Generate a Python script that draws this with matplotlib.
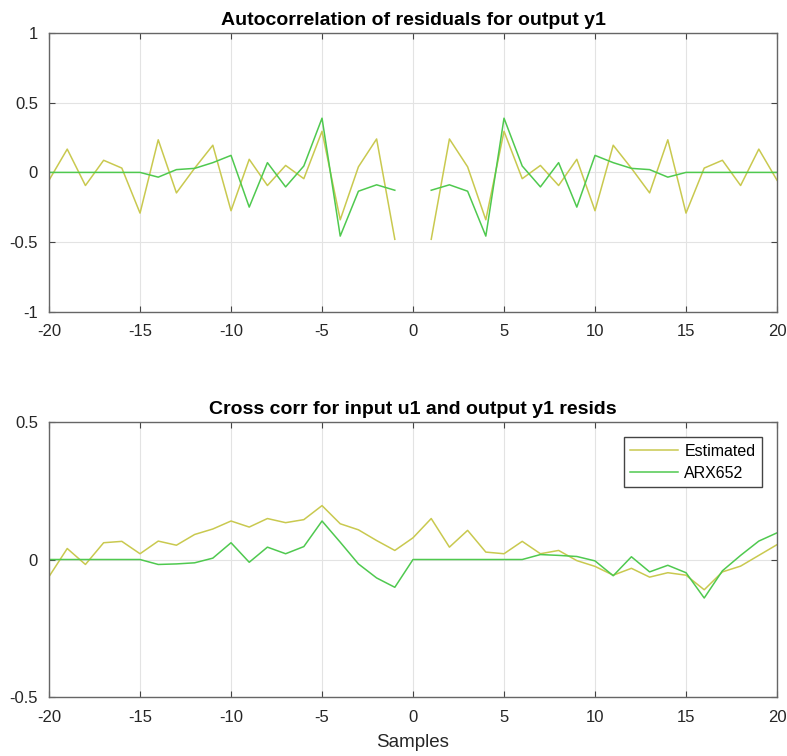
import numpy as np
import matplotlib
matplotlib.use('Agg')
import matplotlib.pyplot as plt

plt.rcParams['font.family'] = ['Liberation Sans', 'DejaVu Sans']
plt.rcParams['axes.unicode_minus'] = False

# lags 1..20, autocorrelation is symmetric so negative lags mirror these
pos_lags = np.arange(1, 21)
auto_est = [-0.48, 0.24, 0.04, -0.34, 0.295, -0.045, 0.05, -0.094, 0.094, -0.275,
            0.195, 0.03, -0.147, 0.234, -0.292, 0.031, 0.087, -0.094, 0.167, -0.056]
auto_arx = [-0.128, -0.089, -0.135, -0.457, 0.389, 0.046, -0.104, 0.07, -0.249, 0.122,
            0.07, 0.029, 0.02, -0.034, 0.0, 0.0, 0.0, 0.0, 0.0, 0.0]

# cross correlation, lags -20..20
cross_lags = np.arange(-20, 21)
cross_est = [-0.062, 0.04, -0.018, 0.061, 0.066, 0.021, 0.067, 0.052, 0.091, 0.111,
             0.14, 0.118, 0.149, 0.134, 0.145, 0.196, 0.13, 0.108, 0.069, 0.033,
             0.079, 0.149, 0.045, 0.106, 0.027, 0.021, 0.066, 0.021, 0.033, -0.004,
             -0.025, -0.057, -0.032, -0.064, -0.048, -0.057, -0.11, -0.045, -0.024, 0.015,
             0.054]
cross_arx = [0.0, 0.0, 0.0, 0.0, 0.0, 0.0, -0.018, -0.016, -0.012, 0.005,
             0.061, -0.01, 0.045, 0.021, 0.047, 0.14, 0.063, -0.016, -0.067, -0.101,
             0.0, 0.0, 0.0, 0.0, 0.0, 0.0, 0.0, 0.018, 0.015, 0.011,
             -0.005, -0.059, 0.01, -0.045, -0.021, -0.048, -0.14, -0.041, 0.015, 0.067,
             0.097]

series_names = ['Estimated', 'ARX652']
colors = ['#c9c94f', '#4fc94f']

# full lag axis with a gap at lag 0
auto_lags = np.concatenate([-pos_lags[::-1], [0], pos_lags])
def mirror(v):
    v = np.asarray(v, dtype=float)
    return np.concatenate([v[::-1], [np.nan], v])

fig = plt.figure(figsize=(7.87, 7.56), dpi=100)
ax1 = fig.add_axes([0.0623, 0.5876, 0.925, 0.3687])
ax2 = fig.add_axes([0.0623, 0.078, 0.925, 0.3638])

def style(ax):
    ax.set_xlim(-20, 20)
    ax.set_xticks(np.arange(-20, 21, 5))
    ax.grid(True, color='#e3e3e3', linewidth=0.8)
    ax.set_axisbelow(True)
    ax.tick_params(direction='in', top=True, right=True, labelsize=12,
                   color='#444444', length=4, labelcolor='#262626')
    ax.tick_params(axis='x', pad=9)
    ax.tick_params(axis='y', pad=8)
    for s in ax.spines.values():
        s.set_color('#666666')
        s.set_linewidth(1.0)

ax1.plot(auto_lags, mirror(auto_est), color=colors[0], linewidth=1.1)
ax1.plot(auto_lags, mirror(auto_arx), color=colors[1], linewidth=1.1)
ax1.set_ylim(-1, 1)
ax1.set_yticks([-1, -0.5, 0, 0.5, 1])
ax1.set_yticklabels(['-1', '-0.5', '0', '0.5', '1'])
ax1.set_title('Autocorrelation of residuals for output y1', fontsize=14,
              fontweight='bold', pad=6)
style(ax1)

ax2.plot(cross_lags, cross_est, color=colors[0], linewidth=1.1, label=series_names[0])
ax2.plot(cross_lags, cross_arx, color=colors[1], linewidth=1.1, label=series_names[1])
ax2.set_ylim(-0.5, 0.5)
ax2.set_yticks([-0.5, 0, 0.5])
ax2.set_yticklabels(['-0.5', '0', '0.5'])
ax2.set_title('Cross corr for input u1 and output y1 resids', fontsize=14,
              fontweight='bold', pad=6)
ax2.set_xlabel('Samples', fontsize=13.5, color='#262626', labelpad=7)
style(ax2)
leg = ax2.legend(loc='upper right', fontsize=11.5, fancybox=False, framealpha=1,
                 edgecolor='#444444', borderaxespad=0.95, handlelength=3.0,
                 handletextpad=0.4, labelspacing=0.45)
leg.get_frame().set_linewidth(1.0)

fig.savefig('out.png', dpi=100)
